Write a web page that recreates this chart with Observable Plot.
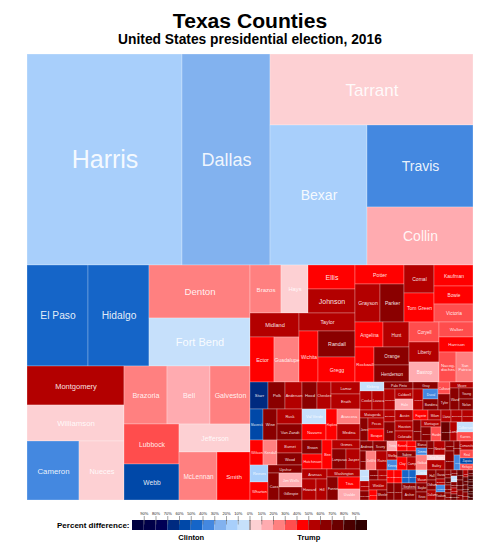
<!DOCTYPE html>
<html><head><meta charset="utf-8">
<script src="https://cdn.jsdelivr.net/npm/d3@7"></script>
<script src="https://cdn.jsdelivr.net/npm/@observablehq/plot@0.6"></script>
<style>
html,body{margin:0;padding:0;background:#fff;font-family:"Liberation Sans",Arial,sans-serif;}
#head{height:54px;box-sizing:border-box;text-align:center;color:#000;font-weight:bold;overflow:hidden;}
#head .t{font-size:21.1px;line-height:23px;padding-top:9px;}
#head .s{font-size:13.8px;line-height:16px;}
svg{display:block;}
</style></head><body>
<div id="head"><div class="t">Texas Counties</div><div class="s">United States presidential election, 2016</div></div>
<div id="map"></div><div id="key"></div>
<script>
const counties = [
"Harris","Dallas","Tarrant","Bexar","Travis","Collin",
"El Paso","Hidalgo","Denton","Fort Bend","Montgomery","Williamson","Cameron","Nueces","Brazoria","Bell","Galveston","Lubbock","Webb","Jefferson","McLennan","Smith",
"Brazos","Hays","Ellis","Johnson","Midland","Ector","Guadalupe","Taylor","Wichita","Randall","Gregg",
"Potter","Grayson","Parker","Comal","Tom Green","Kaufman","Bowie","Victoria","Angelina","Hunt","Rockwall","Orange","Henderson","Coryell","Liberty","Bastrop","Walker","Harrison","Nacog-\ndoches","San\nPatricio",
"Starr","Polk","Anderson","Hood","Cherokee","Lamar","Erath",
"Maverick","Wise","Rusk","Van Zandt","Val Verde","Navarro","Hopkins","Atascosa","Medina",
"Wilson","Kendall","Burnet","Wood","Reeves","Wharton","Upshur","Cass","Jim Wells","Gillespie",
"Brown","Hutchinson","Bee","Grimes","Lampasas","Jasper","Aransas","Howard","Hill","Washington","Fannin","Titus","Uvalde",
"Kleberg","Cooke","Lavaca","Palo Pinto","Gray","Limestone","Caldwell","Hale","Wilbarger","Duval","Bandera","Calhoun","Tyler","Moore","Ward","Young","Nolan",
"Matagorda","Jones","Pecos","Bosque","Brewster","Lee","Austin","Houston","Colorado","Fayette","Milam","Gaines","Montague","Ochiltree","Hardin","Llano","Burleson","Freestone","Gonzales","Lamb","Culberson","Karnes",
"Andrews","Scurry","Kimble","DeWitt","Rains","Trinity","Runnels","Robertson","Shelby","Kinney","Sabine","Clay","Camp","Blanco","Dimmit","Goliad","Mitchell","Newton","Red River","Bailey","Franklin","Eastland","Deaf Smith","Willacy","Comanche","Real","Zapata","Refugio",
"Presidio","Jackson","Coleman","Callahan","Hamilton","Winkler","Somervell","Wheeler","San Jacinto","Madison","Parmer","Childress","Zavala","Brooks","Stephens","Archer",
"Crosby","Mason","Baylor","Knox","Hall","Oldham","Dallam","Garza","Swisher","Hudspeth","Yoakum",
"Upton","Martin","Reagan","Concho","Dickens","Foard","Edwards","Menard","Collingsworth","Hemphill","Lipscomb","Sutton","Cottle","Irion","Sherman","Schleicher","Kent","Motley","King","Loving","Borden"
];
const votes = [
32705,18568,14413,13580,8692,6148,
6161,6161,5353,4848,3783,3492,3068,2655,2494,2494,2320,2200,1980,1988,1824,1584,
1488,1296,1128,1128,1176,1080,1125,1008,969,962,925,
931,950,912,840,870,819,702,702,700,650,665,630,595,600,600,600,510,510,510,510,
486,459,459,405,378,348,435,
403,434,375,400,360,384,341,345,368,
325,350,325,300,306,324,272,297,322,299,
280,300,290,252,280,280,250,294,231,264,253,264,242,
216,228,228,203,175,231,180,198,210,150,165,144,192,138,198,154,154,
192,184,176,192,132,209,198,180,180,150,130,168,140,140,140,120,132,132,171,133,160,144,
130,140,114,190,209,100,100,90,90,100,114,130,117,77,77,165,98,154,90,180,90,171,84,90,117,104,78,78,
99,90,81,90,90,180,80,100,91,104,119,136,91,91,84,154,
55,88,99,88,90,90,90,81,54,63,72,
48,42,48,42,36,36,36,36,36,60,60,60,35,40,35,40,30,30,30,30,30
];
const margins = [
-12,-26,8,-13,-38,17,
-43,-41,22,-7,55,9,-33,3,27,16,29,35,-55,1,22,43,
26,4,42,56,55,45,28,52,45,65,45,
47,53,68,56,46,45,45,34,41,57,45,62,62,30,58,17,34,41,30,20,
-65,60,55,66,57,56,55,
-55,66,52,66,-8,45,45,22,55,
45,27,54,66,-17,45,60,62,14,62,
66,45,45,58,60,56,58,52,52,52,60,45,13,
-7,57,57,62,68,58,55,14,55,-35,62,30,65,52,62,66,60,
55,65,55,45,55,65,55,54,55,45,55,65,56,66,38,58,55,56,70,55,-7,30,
60,60,65,25,55,14,45,45,55,-32,60,45,55,60,-35,22,60,55,5,55,60,60,62,-40,58,30,-55,36,
-8,55,62,60,58,54,45,62,45,45,60,60,-45,-50,60,62,
-8,58,60,65,60,66,58,65,55,-40,60,
62,70,68,60,62,-7,66,58,74,72,76,62,55,70,75,60,72,80,89,80,85
];
const colorBreaks = [-90,-80,-70,-60,-50,-40,-30,-20,-10,0,10,20,30,40,50,60,70,80,90];
const colorRange = ["#000040","#000048","#000055","#002a80","#0048a8","#1565c8","#4488e0","#82b2ef","#a8cffb","#c6e0fb",
"#fdd0d3","#ffabb0","#ff8080","#ff4d4d","#ff0000","#b30000","#8a0000","#6b0000","#4a0000","#300000"];
const tickValues = [-90,-80,-70,-60,-50,-40,-30,-20,-10,0,10,20,30,40,50,60,70,80,90];
const labelSizes = {Harris:25,Dallas:18,Tarrant:17,Bexar:14,Travis:14,Collin:14,"Fort Bend":11,Montgomery:7.5,Williamson:7.8,Ellis:7,Johnson:7};

// Arrangement of the tree: h(...) side by side, v(...) stacked, "." = next county in reading order.
const left = "v(h(. . v(. .)) h(v(. . h(. .)) v(h(. . .) h(v(. .) v(. h(. .))))))";
const colA = "v(h(. . v(. .)) h(v(. h(. .)) v(. h(. v(. .)))))";
const colB = "v(h(v(. h(. .)) v(. .) v(. . .)) h(v(h(. .) h(. v(. .))) v(. . .) v(. . h(. .))))";
const a1 = "h(. . . . . v(. .))", a2 = "h(. . v(. .) v(. .) . v(. .))";
const s1 = "v(h(. . v(. .)) h(v(. .) v(. h(. v(. .)))))";
const s2 = "v(h(v(. .) . v(. h(. .))) h(v(. h(. .)) v(. h(. v(. .)))))";
const b1 = "h(v(. h(. .)) v(h(. .) h(. v(. .) . v(. .))) h(v(. .) v(. h(. v(. .)))))";
const b2 = "h(v(. h(. v(. .))) h(v(. .) v(. . .)) v(h(. .) h(. v(. h(. .)))) v(h(. . .) h(. . v(. .))))";
const b3 = "h(v(h(. .) h(. . .)) v(h(. . .) h(v(. .) v(. h(. .)))) h(v(. . .) v(h(. .) . .)) h(v(. .) v(. .) v(. . . .)))";
const b4 = "h(v(. . .) v(h(. .) . h(. .)) v(h(. .) h(. .)) v(h(. .) . .) h(v(. . . .) v(. . .) v(. . . .)) h(v(. . . .) v(. . . . .) v(. . .) v(. . . .) v(. . . . .)))";
const layout = `v(h(. . v(. h(. v(. .)))) h(${left} v(h(${colA} ${colB}) h(v(${a1} ${a2} h(${s1} ${s2})) v(${b1} ${b2} ${b3} ${b4})))))`;

function parse(str){
  let pos=0, leaf=0;
  function node(){
    while(str[pos]===" ") pos++;
    if(str[pos]==="."){pos++; const i=leaf++; return {i,name:counties[i],value:votes[i],margin:margins[i]};}
    const dir=str[pos]; pos+=2; const children=[];
    while(true){ while(str[pos]===" ") pos++; if(str[pos]===")"){pos++;break;} children.push(node()); }
    return {dir,children};
  }
  return node();
}
const S=446;
const root=d3.treemap().size([S,S]).round(false)
  .tile((n,a,b,c,d)=>(n.data.dir==="h"?d3.treemapDice:d3.treemapSlice)(n,a,b,c,d))(
   d3.hierarchy(parse(layout)).sum(d=>d.value||0));
const cells=root.leaves().map(l=>{
  const w=l.x1-l.x0,h=l.y1-l.y0,name=l.data.name;
  const longest=d3.max(name.split("\n"),s=>s.length);
  const fs=labelSizes[name]||Math.max(1.6,Math.min(0.105*Math.sqrt(w*h)+2,w*0.95/(0.52*longest)));
  return {x0:l.x0,x1:l.x1,y0:l.y0,y1:l.y1,name,margin:l.data.margin,fs};
});
const color={type:"threshold",domain:colorBreaks,range:colorRange};
const font="Liberation Sans";
document.getElementById("map").append(Plot.plot({
  width:500,height:S,marginLeft:27,marginRight:27,marginTop:0,marginBottom:0,
  style:{fontFamily:font,background:"#fff"},
  x:{domain:[0,S],axis:null},
  y:{domain:[0,S],range:[0,S],axis:null},
  color,
  marks:[
    Plot.rect(cells,{x1:"x0",x2:"x1",y1:"y0",y2:"y1",fill:"margin",stroke:"#fff",strokeOpacity:0.42,strokeWidth:0.6}),
    Plot.text(cells,{x:d=>(d.x0+d.x1)/2,y:d=>(d.y0+d.y1)/2,text:"name",fill:"#fff",fillOpacity:0.9,fontSize:"fs",fontFamily:font,lineHeight:1.05})
  ]
}));
const bins=d3.range(-100,100,10).map(v=>({a:v,b:v+10,m:v+5}));
document.getElementById("key").append(Plot.plot({
  width:500,height:52,marginLeft:132,marginRight:133,marginTop:20,marginBottom:22,
  style:{fontFamily:font,background:"#fff",overflow:"visible"},
  x:{domain:[-100,100],axis:null},
  y:{domain:[0,1],axis:null},
  color,
  marks:[
    Plot.rect(bins,{x1:"a",x2:"b",y1:0,y2:1,fill:"m"}),
    Plot.ruleX(tickValues.filter(v=>v),{y1:0.55,y2:1,stroke:"#666",strokeWidth:0.5}),
    Plot.ruleX([0],{y1:0,y2:1,stroke:"#444",strokeWidth:0.8}),
    Plot.axisX({anchor:"top",ticks:tickValues,tickSize:5,tickPadding:1,fontSize:4,fill:"#222",stroke:"#444",strokeWidth:.5,tickFormat:d=>Math.abs(d)+"%",label:null}),
    Plot.text(["Percent difference:"],{x:-100,y:0.5,dx:-3,text:d=>d,textAnchor:"end",fontWeight:"bold",fontSize:8,fontFamily:font,fill:"#000"}),
    Plot.text(["Clinton"],{x:-50,y:0,dy:7,text:d=>d,fontWeight:"bold",fontSize:7.5,fontFamily:font,fill:"#000"}),
    Plot.text(["Trump"],{x:50,y:0,dy:7,text:d=>d,fontWeight:"bold",fontSize:7.5,fontFamily:font,fill:"#000"})
  ]
}));
</script></body></html>
